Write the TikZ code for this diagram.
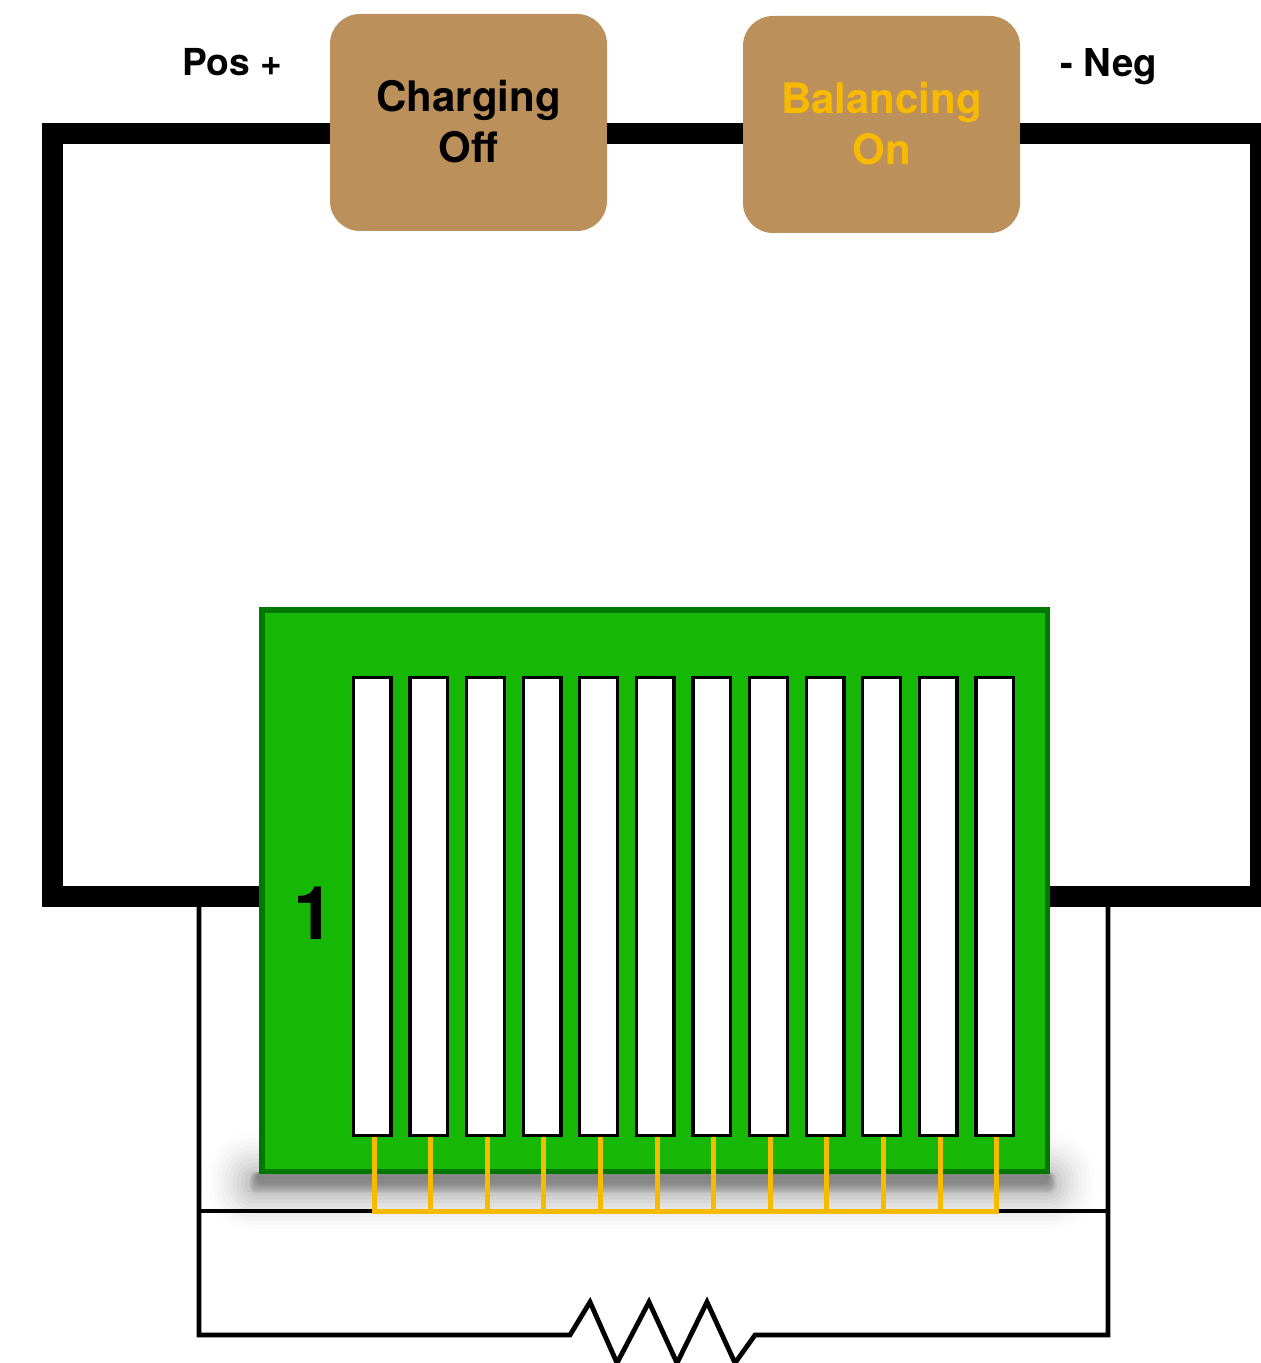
\documentclass[tikz,border=0pt]{standalone}
\usepackage{fontspec}
\setmainfont{TeX Gyre Heros}
\usetikzlibrary{backgrounds}
\definecolor{PackGreen}{RGB}{22, 184, 5}
\definecolor{PackEdge}{RGB}{0, 120, 0}
\definecolor{SwitchBrown}{RGB}{188, 144, 90}
\definecolor{TapYellow}{RGB}{248, 186, 0}
\newcommand{\liftline}{\rule[-1.1pt]{0pt}{0pt}}
\tikzset{
  switchbox/.style={rectangle, rounded corners=15pt, fill=SwitchBrown, minimum width=138.5pt, minimum height=108.5pt,
    align=center, inner sep=0pt, font=\fontsize{21}{25.2}\selectfont\bfseries},
  termlabel/.style={anchor=base, inner sep=0pt, font=\fontsize{18.6}{22}\selectfont\bfseries},
  pack/.style={rectangle, draw=PackEdge, line width=2.75pt, fill=PackGreen, minimum width=392.75pt, minimum height=280.75pt},
  cell/.style={rectangle, draw=black, line width=1.65pt, fill=white, minimum width=18.85pt, minimum height=228.85pt, inner sep=0pt},
  mainwire/.style={line width=10.5pt},
  thinwire/.style={line width=2.4pt},
  tap/.style={TapYellow, line width=2.5pt},
}
\begin{document}
\begin{tikzpicture}[x=0.5pt, y=-0.5pt]
    \useasboundingbox (0,0) rectangle (1261,1363);
    \node[switchbox] (chg) at (468.5,122.5) {Charging\\Off\liftline};
    \node[switchbox, text=TapYellow] (bal) at (881.5,124.5) {Balancing\\On\liftline};
    \node[termlabel] (pos) at (232.5,76) {Pos +};
    \node[termlabel, font=\fontsize{19.2}{22}\selectfont\bfseries] (neg) at (1108.5,76.5) {- Neg};
    \coordinate (tl) at (52.5,133.5);
    \coordinate (tr) at (1260.5,133.5);
    \coordinate (bl) at (52.5,896);
    \coordinate (br) at (1260.5,896);
    \coordinate (ll) at (199,896);
    \coordinate (lr) at (1108,896);
    \coordinate (busl) at (199,1211);
    \coordinate (busr) at (1108,1211);
    \coordinate (rl) at (199,1335);
    \coordinate (rr) at (1108,1335);
    \coordinate (res1) at (570,1335);
    \coordinate (res2) at (755,1335);
    \draw[thinwire] (ll) -- (rl) -- (res1) -- (590,1302) -- (617,1363) -- (649,1302) -- (677,1363) -- (707,1302) -- (735,1363) -- (res2) -- (rr) -- (lr);
    \draw[thinwire] (busl) -- (busr);
    \node[pack] (board) at (654.5,890.5) {};
    \node[font=\fontsize{37}{40}\selectfont\bfseries, anchor=base, inner sep=0pt] (num) at (314,939) {1};
    \draw[mainwire] (chg.west |- tl) -- (tl) -- (bl) -- (bl -| board.west);
    \draw[mainwire] (chg.east |- tl) -- (bal.west |- tl);
    \draw[mainwire] (bal.east |- tr) -- (tr) -- (br) -- (br -| board.east);
    \foreach \i in {1,...,12} {
      \node[cell] (c\i) at ({372.2+56.6*(\i-1)},906.5) {};
      \draw[tap] ([xshift=0.9pt]c\i.south) -- ([xshift=0.9pt]c\i.south |- busl);
    }
    \draw[tap, line cap=rect] ([xshift=0.9pt]c1.south |- busl) -- ([xshift=0.9pt]c12.south |- busl);
    \begin{scope}[on background layer]
      \foreach \d in {0,4,...,44} {
        \fill[black, opacity={.003+\d*.0009}, rounded corners={(22-\d*.4)*1pt}] (205+\d,1130+\d) rectangle (1098-\d,1232-\d*.9);
      }
      \foreach \d in {0,1,...,7} {
        \fill[black, opacity=.045, rounded corners=3pt] (250+\d,1172) rectangle (1056-\d,1193-\d*1.4);
      }
    \end{scope}
  \end{tikzpicture}
\end{document}
